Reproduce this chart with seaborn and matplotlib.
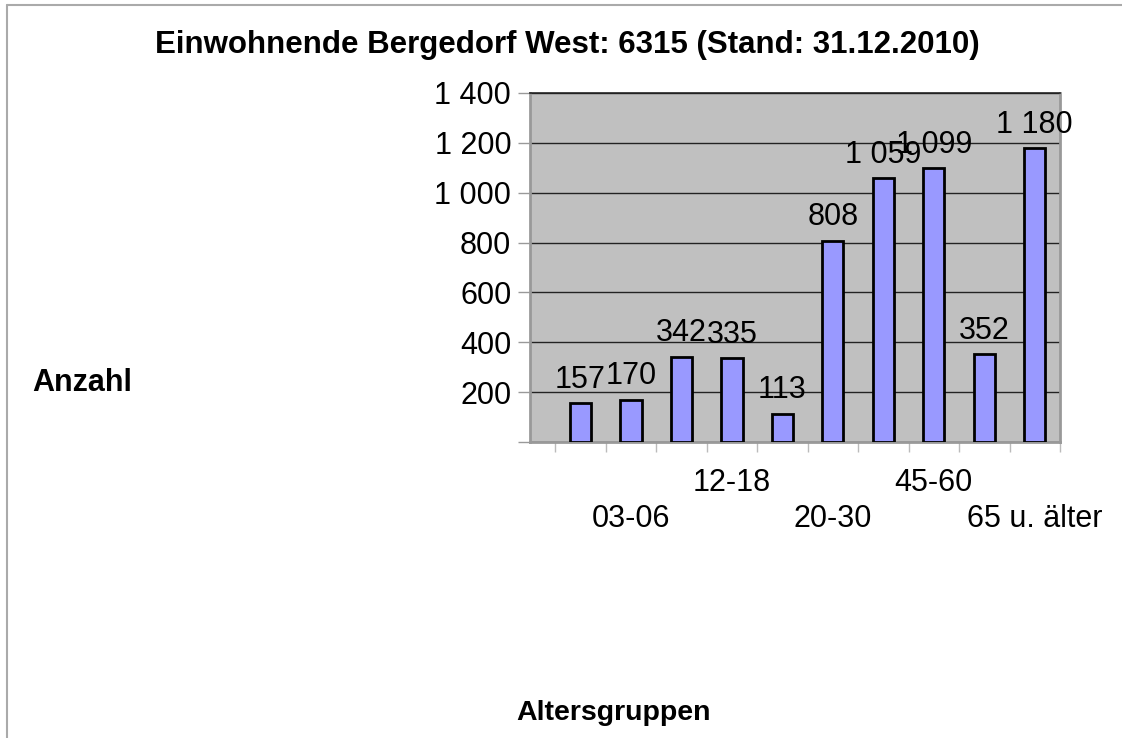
import matplotlib
matplotlib.use("Agg")
import matplotlib.pyplot as plt
import seaborn as sns
from matplotlib.lines import Line2D

# Altersgruppen und Einwohnerzahlen (Bergedorf West, 31.12.2010)
categories = ["00-03", "03-06", "06-12", "12-18", "18-20",
              "20-30", "30-45", "45-60", "60-65", "65 u. älter"]
values = [157, 170, 342, 335, 113, 808, 1059, 1099, 352, 1180]
# only every second label is shown, staggered on two rows
shown_labels = ["", "\n03-06", "", "12-18", "", "\n20-30", "", "45-60", "", "\n65 u. älter"]
y_ticks = [0, 200, 400, 600, 800, 1000, 1200, 1400]

title = "Einwohnende Bergedorf West: 6315 (Stand: 31.12.2010)"


def fmt(v):
    return f"{v:,}".replace(",", " ")


sns.set_style("white")
plt.rcParams["font.family"] = ["Liberation Sans", "DejaVu Sans"]
plt.rcParams["text.color"] = "black"
plt.rcParams["xtick.labelcolor"] = "black"
plt.rcParams["ytick.labelcolor"] = "black"

fig = plt.figure(figsize=(11.22, 7.38), dpi=100)
ax = fig.add_axes([530 / 1122, 1 - 442 / 738, 530 / 1122, 349 / 738])
ax.set_facecolor("#c0c0c0")

sns.barplot(x=categories, y=values, color="#9999ff", saturation=1,
            edgecolor="black", linewidth=2, width=0.42, ax=ax, zorder=3)

ax.set_xlim(-1, 9.5)
ax.set_ylim(0, 1400)

# y axis
ax.set_yticks(y_ticks)
ax.set_yticklabels([""] + [fmt(t) for t in y_ticks[1:]], fontsize=22)
ax.tick_params(axis="y", length=8.5, width=1, color="#999999", pad=5, left=True)
ax.yaxis.grid(True, color="#222222", linewidth=1)
ax.set_axisbelow(True)

# x axis: labels at bar centres, tick marks at category borders
ax.set_xticks(range(len(categories)))
ax.set_xticklabels(shown_labels, fontsize=22, linespacing=1.25)
ax.tick_params(axis="x", which="major", length=0, pad=19)
ax.set_xticks([i - 0.5 for i in range(len(categories) + 1)], minor=True)
ax.tick_params(axis="x", which="minor", length=7, width=1, color="#bbbbbb", bottom=True)
ax.set_xlabel("")
ax.set_ylabel("")

for side in ["left", "bottom", "right"]:
    ax.spines[side].set_color("#999999")
    ax.spines[side].set_linewidth(2)
ax.spines["top"].set_color("#222222")
ax.spines["top"].set_linewidth(1.2)

ax.bar_label(ax.containers[0], labels=[fmt(v) for v in values],
             padding=6, fontsize=22, zorder=4)

fig.text(0.506, 1 - 45 / 738, title, ha="center", va="center",
         fontsize=22.5, fontweight="bold")
fig.text(32 / 1122, 1 - 383 / 738, "Anzahl", ha="left", va="center",
         fontsize=22, fontweight="bold")
fig.text(614 / 1122, 1 - 713 / 738, "Altersgruppen", ha="center", va="center",
         fontsize=20.5, fontweight="bold")

# thin outer frame (left and top edges)
fig.add_artist(Line2D([6.5 / 1122, 6.5 / 1122], [0, 1 - 5 / 738],
                      transform=fig.transFigure, color="#aaaaaa", linewidth=1.5))
fig.add_artist(Line2D([6.5 / 1122, 1], [1 - 5 / 738, 1 - 5 / 738],
                      transform=fig.transFigure, color="#aaaaaa", linewidth=1.5))

fig.savefig("out.png", dpi=100)
